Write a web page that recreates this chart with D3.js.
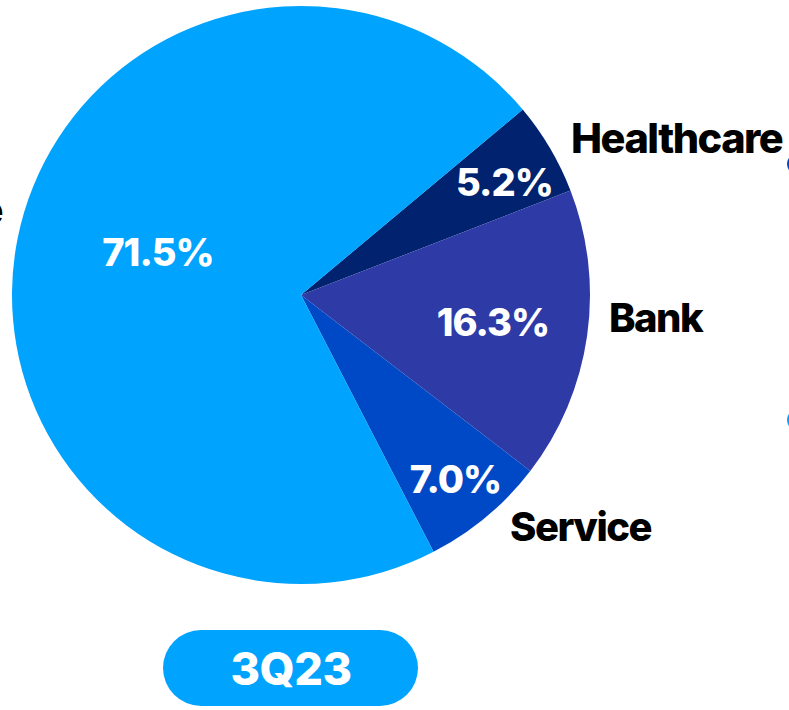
<!DOCTYPE html>
<html>
<head>
<meta charset="utf-8">
<script src="https://cdn.jsdelivr.net/npm/d3@7"></script>
<style>
  html, body { margin: 0; padding: 0; background: #ffffff; }
  svg { display: block; }
  text { font-family: Inter, "Liberation Sans", sans-serif; font-weight: 800; }
</style>
</head>
<body>
<svg id="chart" width="789" height="710"></svg>
<script>
// Revenue mix by vertical, 3Q23 (shares in %)
const segments = ["Healthcare", "Bank", "Service", "Corporate"];
const shares = [5.2, 16.3, 7.0, 71.5];
const colors = ["#01236f", "#2e3aa6", "#0049c6", "#00a3fe"];
const periodLabel = "3Q23";

const svg = d3.select("#chart");
const cx = 301, cy = 295, R = 289;

const data = segments.map((name, i) => ({ name, value: shares[i], color: colors[i] }));

// Pie begins at the Healthcare wedge (about 50° clockwise from 12 o'clock)
const startDeg = 50.1;
const pie = d3.pie()
  .value(d => d.value)
  .sort(null)
  .startAngle(startDeg * Math.PI / 180)
  .endAngle(startDeg * Math.PI / 180 + 2 * Math.PI);

const arcs = pie(data);
const arc = d3.arc().innerRadius(0).outerRadius(R);

const g = svg.append("g").attr("transform", `translate(${cx},${cy})`);

g.selectAll("path.slice")
  .data(arcs)
  .join("path")
  .attr("class", "slice")
  .attr("d", arc)
  .attr("fill", d => d.data.color);

// Percent labels inside wedges: radius as a fraction of R, plus an angular nudge (degrees)
const pctPos = {
  Healthcare: { r: 0.805, nudge: 1.5 },
  Bank: { r: 0.671, nudge: 0 },
  Service: { r: 0.833, nudge: 0 },
  Corporate: { r: 0.517, nudge: 5.3 }
};
const fmt = v => v.toFixed(1) + "%";

g.selectAll("text.pct")
  .data(arcs)
  .join("text")
  .attr("class", "pct")
  .attr("transform", d => {
    const p = pctPos[d.data.name];
    const a = (d.startAngle + d.endAngle) / 2 + p.nudge * Math.PI / 180;
    const r = R * p.r;
    return `translate(${Math.sin(a) * r},${-Math.cos(a) * r})`;
  })
  .attr("text-anchor", "middle")
  .attr("dy", "0.36em")
  .attr("fill", "#ffffff")
  .attr("font-size", 38)
  .attr("letter-spacing", -1)
  .text(d => fmt(d.data.value));

// Category names outside the pie
const outside = [
  { name: "Healthcare", x: 571, y: 153, size: 41.5 },
  { name: "Bank", x: 609, y: 332, size: 40 },
  { name: "Service", x: 510, y: 541, size: 40 },
  { name: "Corporate", x: 2, y: 224, size: 40, anchor: "end" }
];
svg.selectAll("text.cat")
  .data(outside)
  .join("text")
  .attr("class", "cat")
  .attr("x", d => d.x)
  .attr("y", d => d.y)
  .attr("text-anchor", d => d.anchor || "start")
  .attr("fill", "#000000")
  .attr("font-size", d => d.size)
  .attr("letter-spacing", -1.5)
  .text(d => d.name);

// Edges of the neighbouring panel's markers
svg.append("circle").attr("cx", 798).attr("cy", 164).attr("r", 11).attr("fill", "#0049c6");
svg.append("circle").attr("cx", 798).attr("cy", 420).attr("r", 11).attr("fill", "#00a3fe");

// Period pill
const pill = svg.append("g");
pill.append("rect")
  .attr("x", 163).attr("y", 630)
  .attr("width", 255).attr("height", 76)
  .attr("rx", 38).attr("ry", 38)
  .attr("fill", "#00a3fe");
pill.append("text")
  .attr("x", 291).attr("y", 669)
  .attr("dy", "0.36em")
  .attr("text-anchor", "middle")
  .attr("fill", "#ffffff")
  .attr("font-size", 45)
  .attr("letter-spacing", -0.5)
  .text(periodLabel);
</script>
</body>
</html>
